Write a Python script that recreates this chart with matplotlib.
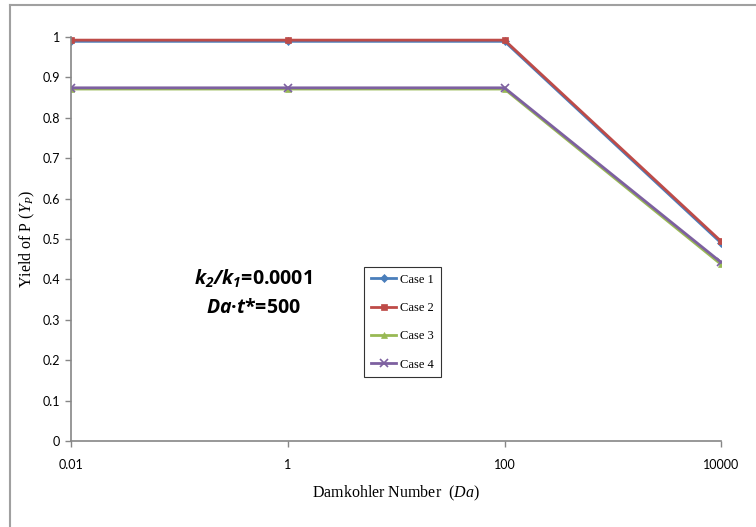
import matplotlib
matplotlib.use('Agg')
import matplotlib.pyplot as plt
from matplotlib.lines import Line2D
from matplotlib.ticker import FixedLocator, NullLocator

plt.rcParams['mathtext.fontset'] = 'custom'
plt.rcParams['mathtext.it'] = 'Liberation Serif:italic'
plt.rcParams['mathtext.rm'] = 'Liberation Serif'
# sf slot used for the bold italic annotation variables
plt.rcParams['mathtext.sf'] = 'Open Sans:italic:bold'

# Data
da = [0.01, 1, 100, 10000]
da_labels = ['0.01', '1', '100', '10000']
case1 = [0.989, 0.989, 0.989, 0.490]
case2 = [0.992, 0.992, 0.992, 0.494]
case3 = [0.871, 0.871, 0.871, 0.437]
case4 = [0.874, 0.874, 0.874, 0.442]
y_ticks = [0, 0.1, 0.2, 0.3, 0.4, 0.5, 0.6, 0.7, 0.8, 0.9, 1]
y_labels = ['0', '0.1', '0.2', '0.3', '0.4', '0.5', '0.6', '0.7', '0.8', '0.9', '1']

series = [
    ('Case 1', case1, '#4A7EBB', 'D', 4),
    ('Case 2', case2, '#BE4B48', 's', 5),
    ('Case 3', case3, '#98B954', '^', 5),
    ('Case 4', case4, '#7D60A0', 'x', 6),
]

fig = plt.figure(figsize=(7.56, 5.27), dpi=100)
ax = fig.add_axes([0.094, 0.163, 0.860, 0.767])

for name, vals, color, marker, ms in series:
    ax.plot(da, vals, color=color, lw=2, marker=marker, ms=ms,
            mew=1.2 if marker == 'x' else 0.5, mec=color, label=name)

ax.set_xscale('log')
ax.set_xlim(0.01, 10000)
ax.set_ylim(0, 1)
ax.xaxis.set_major_locator(FixedLocator(da))
ax.xaxis.set_minor_locator(NullLocator())
ax.set_xticklabels(da_labels)
ax.set_yticks(y_ticks)
ax.set_yticklabels(y_labels)

for side in ['top', 'right']:
    ax.spines[side].set_visible(False)
for side in ['left', 'bottom']:
    ax.spines[side].set_color('#868686')
    ax.spines[side].set_linewidth(1.2)
ax.tick_params(direction='out', length=4, color='#868686', width=1,
               labelsize=9, pad=4)
ax.tick_params(axis='x', pad=9)
for lbl in ax.get_xticklabels() + ax.get_yticklabels():
    lbl.set_family('Lato')

ax.set_xlabel('Damkohler Number  ($\\mathit{Da}$)', family='Liberation Serif',
              fontsize=11.5, labelpad=9)
ax.set_ylabel('Yield of P ($Y_P$)', family='Liberation Serif', fontsize=11.5,
              labelpad=4)

# parameter annotation
ax.text(0.280, 0.388, '$\\mathsf{k_2/k_1}$=0.0001', transform=ax.transAxes,
        fontsize=14, fontweight='bold', family='Open Sans',
        ha='center', va='baseline')
ax.text(0.280, 0.318, '$\\mathsf{Da}$·$\\mathsf{t}$*=500', transform=ax.transAxes,
        fontsize=14, fontweight='bold', family='Open Sans',
        ha='center', va='baseline')

leg = ax.legend(loc='upper left', bbox_to_anchor=(0.451, 0.431),
                borderaxespad=0,
                prop={'family': 'Liberation Serif', 'size': 9},
                frameon=True, fancybox=False, edgecolor='black',
                handlelength=2.0, labelspacing=1.3, borderpad=0.55,
                handletextpad=0.3)
leg.get_frame().set_linewidth(0.8)

# outer chart border (left and top edges visible)
fig.add_artist(Line2D([10 / 756, 10 / 756], [0, 1 - 5 / 527],
                      transform=fig.transFigure, color='#A0A0A0', lw=1.5))
fig.add_artist(Line2D([10 / 756, 1], [1 - 5 / 527, 1 - 5 / 527],
                      transform=fig.transFigure, color='#A0A0A0', lw=1.5))

fig.savefig('out.png', dpi=100)
